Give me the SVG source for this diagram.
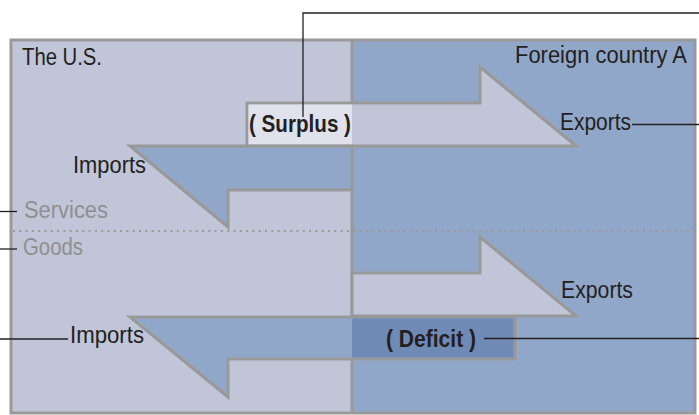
<svg xmlns="http://www.w3.org/2000/svg" width="699" height="415" viewBox="0 0 699 415">
<style>
.lbl{font-family:"Liberation Sans",Arial,sans-serif;font-size:23px;fill:#231f20}
.bold{font-weight:bold;font-size:24px}
.gray{fill:#8f8f8f}
.edge{stroke:#999;stroke-width:3}
.lead{stroke:#231f20;stroke-width:1.3;fill:none}
</style>
<rect width="699" height="415" fill="#fff"/>
<g id="us-region">
<rect x="11" y="40" width="341" height="373" fill="#c0c5d8"/>
</g>
<g id="foreign-region">
<rect x="352" y="40" width="343" height="373" fill="#91a7c9"/>
</g>
<rect x="11" y="40" width="684" height="373" fill="none" class="edge"/>
<line x1="352" y1="40" x2="352" y2="413" class="edge"/>
<line x1="13" y1="231" x2="694" y2="231" stroke="#999" stroke-width="2" stroke-dasharray="2 4.3"/>
<g id="export-services">
<polygon points="247,103 480,103 480,67 576,146 247,146" fill="#c0c5d8" class="edge"/>
<rect x="248.5" y="104.5" width="103.5" height="40" fill="#dfe1eb"/>
</g>
<g id="import-services">
<polygon points="130,146 352,146 352,190 228,190 228,227" fill="#91a7c9" class="edge"/>
</g>
<g id="export-goods">
<polygon points="352,273 480,273 480,237 576,316 352,316" fill="#c0c5d8" class="edge"/>
</g>
<g id="import-goods">
<polygon points="130,317 515,317 515,359 228,359 228,397" fill="#91a7c9" class="edge"/>
<rect x="352" y="318.5" width="161.5" height="39" fill="#6f8ab4"/>
</g>
<g id="labels">
<text class="lbl" x="22" y="65" textLength="80" lengthAdjust="spacingAndGlyphs">The U.S.</text>
<text class="lbl" x="515" y="63" textLength="172" lengthAdjust="spacingAndGlyphs">Foreign country A</text>
<text class="lbl bold" x="249" y="132" textLength="102" lengthAdjust="spacingAndGlyphs">( Surplus )</text>
<text class="lbl" x="560" y="130" textLength="71" lengthAdjust="spacingAndGlyphs">Exports</text>
<text class="lbl" x="73" y="173" textLength="73" lengthAdjust="spacingAndGlyphs">Imports</text>
<text class="lbl gray" x="24" y="218" textLength="84" lengthAdjust="spacingAndGlyphs">Services</text>
<text class="lbl gray" x="23" y="255" textLength="60" lengthAdjust="spacingAndGlyphs">Goods</text>
<text class="lbl" x="561" y="298" textLength="72" lengthAdjust="spacingAndGlyphs">Exports</text>
<text class="lbl" x="70" y="343" textLength="74" lengthAdjust="spacingAndGlyphs">Imports</text>
<text class="lbl bold" x="386" y="347" textLength="90" lengthAdjust="spacingAndGlyphs">( Deficit )</text>
</g>
<g id="connectors">
<polyline class="lead" points="303,117 303,13 699,13"/>
<line class="lead" x1="632" y1="124.5" x2="699" y2="124.5"/>
<line class="lead" x1="0" y1="211.5" x2="17" y2="211.5"/>
<line class="lead" x1="0" y1="249" x2="17" y2="249"/>
<line class="lead" x1="0" y1="339" x2="68" y2="339"/>
<line class="lead" x1="484" y1="338.5" x2="699" y2="338.5"/>
</g>
</svg>
